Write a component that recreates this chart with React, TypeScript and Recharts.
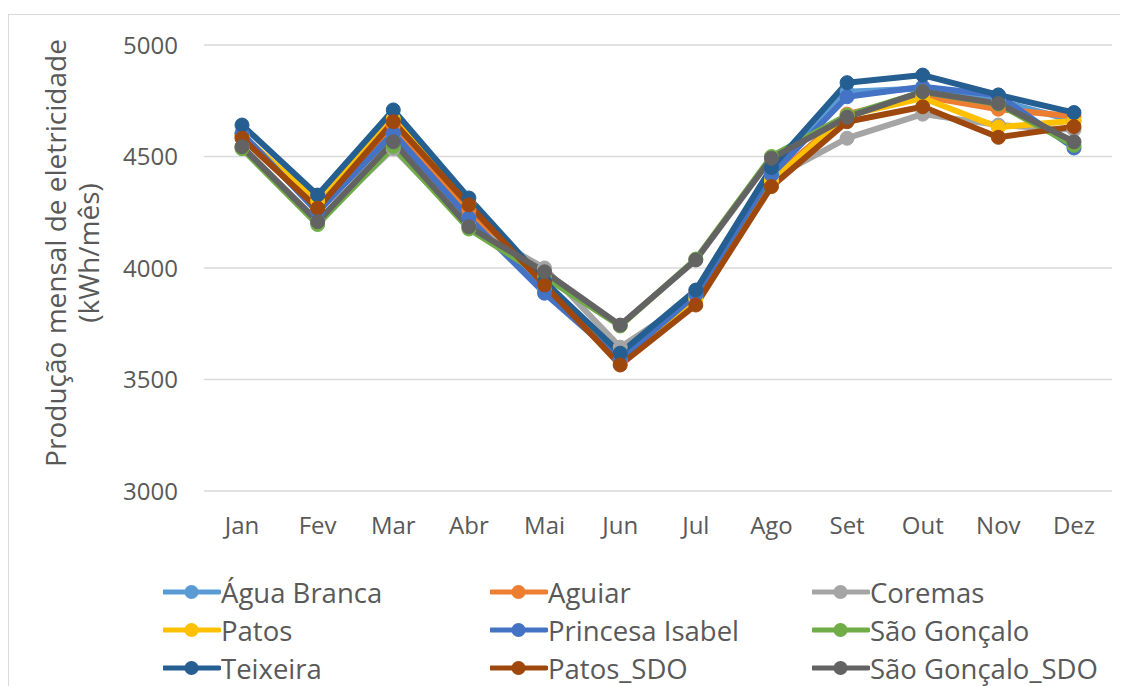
import React from 'react';
import { LineChart, Line, XAxis, YAxis, CartesianGrid } from 'recharts';

const months = ['Jan', 'Fev', 'Mar', 'Abr', 'Mai', 'Jun', 'Jul', 'Ago', 'Set', 'Out', 'Nov', 'Dez'];

const aguaBranca = [4600, 4260, 4600, 4230, 3910, 3590, 3880, 4420, 4790, 4805, 4750, 4660];
const aguiar = [4590, 4265, 4640, 4260, 3930, 3585, 3890, 4400, 4690, 4770, 4712, 4680];
const coremas = [4545, 4210, 4535, 4190, 4000, 3645, 3870, 4400, 4582, 4690, 4641, 4620];
const patos = [4595, 4300, 4670, 4290, 3930, 3575, 3860, 4390, 4685, 4762, 4631, 4660];
const princesaIsabel = [4605, 4250, 4605, 4224, 3887, 3590, 3880, 4417, 4768, 4813, 4775, 4538];
const saoGoncalo = [4535, 4195, 4545, 4175, 3960, 3740, 4040, 4500, 4685, 4790, 4735, 4550];
const teixeira = [4641, 4327, 4709, 4314, 3940, 3618, 3901, 4450, 4831, 4865, 4776, 4697];
const patosSdo = [4582, 4268, 4656, 4283, 3924, 3565, 3834, 4365, 4656, 4723, 4586, 4634];
const saoGoncaloSdo = [4544, 4208, 4566, 4185, 3983, 3744, 4036, 4492, 4676, 4791, 4738, 4566];

const yTicks = [3000, 3500, 4000, 4500, 5000];

const series = [
  { key: 'Água Branca', values: aguaBranca, color: '#5B9BD5' },
  { key: 'Aguiar', values: aguiar, color: '#ED7D31' },
  { key: 'Coremas', values: coremas, color: '#A5A5A5' },
  { key: 'Patos', values: patos, color: '#FFC000' },
  { key: 'Princesa Isabel', values: princesaIsabel, color: '#4472C4' },
  { key: 'São Gonçalo', values: saoGoncalo, color: '#70AD47' },
  { key: 'Teixeira', values: teixeira, color: '#255E91' },
  { key: 'Patos_SDO', values: patosSdo, color: '#9E480E' },
  { key: 'São Gonçalo_SDO', values: saoGoncaloSdo, color: '#636363' },
];

const data = months.map((m, i) => {
  const row: Record<string, string | number> = { month: m };
  series.forEach((s) => { row[s.key] = s.values[i]; });
  return row;
});

const FONT = '"Open Sans", sans-serif';
const TEXT = '#595959';

function LegendItem({ name, color }: { name: string; color: string }) {
  return (
    <div style={{ display: 'flex', alignItems: 'center', height: 38 }}>
      <svg width={58} height={20} style={{ flex: 'none' }}>
        <line x1={1} y1={10} x2={56} y2={10} stroke={color} strokeWidth={5} strokeLinecap="round" />
        <circle cx={28.5} cy={10} r={7} fill={color} />
      </svg>
      <span style={{ fontFamily: FONT, fontSize: 27.5, color: TEXT, whiteSpace: 'nowrap' }}>{name}</span>
    </div>
  );
}

export default function App() {
  return (
    <div
      style={{
        position: 'relative',
        width: 1119,
        height: 671,
        marginTop: 6,
        borderTop: '1px solid #d9d9d9',
        borderLeft: '1px solid #d9d9d9',
        background: '#fff',
      }}
    >
      <LineChart width={1119} height={540} data={data} margin={{ top: 30, right: 16, left: 0, bottom: 0 }}>
        <CartesianGrid vertical={false} stroke="#d9d9d9" strokeWidth={1.5} />
        <XAxis
          dataKey="month"
          height={64}
          padding={{ left: 38, right: 38 }}
          axisLine={false}
          tickLine={false}
          tickSize={0}
          tickMargin={26}
          tick={{ fill: TEXT, fontSize: 24, fontFamily: FONT }}
        />
        <YAxis
          width={195}
          domain={[3000, 5000]}
          ticks={yTicks}
          axisLine={false}
          tickLine={false}
          tickSize={0}
          tickMargin={26}
          tick={{ fill: TEXT, fontSize: 24, fontFamily: FONT }}
        />
        {series.map((s) => (
          <Line
            key={s.key}
            dataKey={s.key}
            stroke={s.color}
            strokeWidth={6}
            strokeLinejoin="round"
            dot={{ r: 7, fill: s.color, stroke: s.color, strokeWidth: 1 }}
            activeDot={false}
            isAnimationActive={false}
          />
        ))}
        <text
          x={46}
          y={238}
          transform="rotate(-90, 46, 238)"
          textAnchor="middle"
          dominantBaseline="central"
          fill={TEXT}
          fontSize={28}
          fontFamily={FONT}
        >
          Produção mensal de eletricidade
        </text>
        <text
          x={79}
          y={238}
          transform="rotate(-90, 79, 238)"
          textAnchor="middle"
          dominantBaseline="central"
          fill={TEXT}
          fontSize={28}
          fontFamily={FONT}
        >
          (kWh/mês)
        </text>
      </LineChart>
      <div
        style={{
          position: 'absolute',
          left: 154,
          top: 558,
          display: 'grid',
          gridTemplateColumns: '327px 322px 300px',
        }}
      >
        {series.map((s) => (
          <LegendItem key={s.key} name={s.key} color={s.color} />
        ))}
      </div>
    </div>
  );
}
